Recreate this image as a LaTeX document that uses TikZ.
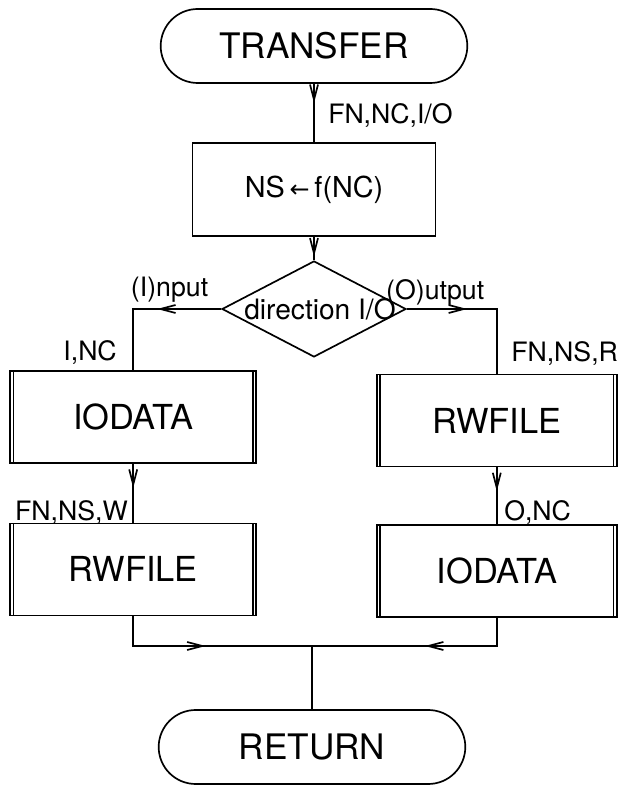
\documentclass[tikz,border=0pt]{standalone}
\usepackage{fontspec}
\setmainfont{TeX Gyre Heros}
\newfontfamily\arrowfont{DejaVu Sans}
\usetikzlibrary{positioning,shapes.geometric,shapes.misc,arrows.meta,decorations.markings}

\begin{document}
\begin{tikzpicture}[
    line width=1.2pt,
    term/.style={draw, rounded rectangle, minimum width=7.9cm,
                 minimum height=1.85cm, font=\fontsize{25}{30}\selectfont},
    proc/.style={draw, minimum width=6.075cm, minimum height=2.325cm,
                 font=\fontsize{20.5}{24}\selectfont},
    sub/.style={draw, minimum height=2.3cm, font=\fontsize{24.5}{29}\selectfont,
                path picture={
                  \draw ([xshift=0.085cm]path picture bounding box.north west)
                     -- ([xshift=0.085cm]path picture bounding box.south west);
                  \draw ([xshift=-0.085cm]path picture bounding box.north east)
                     -- ([xshift=-0.085cm]path picture bounding box.south east);}},
    decision/.style={draw, diamond, inner sep=0pt, minimum width=4.6cm,
                     minimum height=2.4cm},
    lbl/.style={font=\fontsize{19}{23}\selectfont, inner sep=1pt},
    flow/.style={postaction={decorate}, decoration={markings,
                 mark=at position #1 with {\arrow{Straight Barb[length=3.8mm,width=2mm]}}}}
]
\useasboundingbox (0,0) rectangle (15.475,19.675);

% --- Main column ---
\node[term] (transfer) at (7.85, 18.525) {TRANSFER};
\node[proc] (ns) at (7.85, 14.94) {NS\,{\arrowfont\fontsize{17}{20}\selectfont ←}\,f(NC)};
\node[decision] (dir) at (7.85, 11.95) {};
\node[font=\fontsize{20}{24}\selectfont, inner sep=0pt] (dirtxt) at (8.0, 11.95) {direction I/O};

% --- Input branch ---
\node[sub, minimum width=6.15cm] (iodataL) at (3.33, 9.25) {IODATA};
\node[sub, minimum width=6.15cm] (rwfileL) at (3.33, 5.44) {RWFILE};

% --- Output branch ---
\node[sub, minimum width=6.0cm] (rwfileR) at (12.42, 9.16) {RWFILE};
\node[sub, minimum width=6.0cm] (iodataR) at (12.42, 5.40) {IODATA};

% --- End ---
\coordinate (join) at (7.8, 3.525);
\node[term] (ret) at (7.8, 1.0) {RETURN};

% --- Connectors ---
\draw[flow=0.33] (transfer) -- (ns);
\draw[flow=0.85] (ns) -- (dir);
\draw[flow=0.43] (dir.west) -| (iodataL.north);
\draw[flow=0.39] (dir.east) -| (rwfileR.north);
\draw[flow=0.41] (iodataL) -- (rwfileL);
\draw[flow=0.42] (rwfileR) -- (iodataR);
\draw[flow=0.49] (rwfileL.south) |- (join);
\draw[flow=0.47] (iodataR.south) |- (join);
\draw (join) -- (ret);

% --- Labels ---
\node[lbl, anchor=west] (inargs) at (8.15, 16.8) {FN,NC,I/O};
\node[lbl] (inlbl) at (4.24, 12.425) {(I)nput};
\node[lbl] (outlbl) at (10.88, 12.375) {(O)utput};
\node[lbl, anchor=east] (iargs) at (2.975, 10.875) {I,NC};
\node[lbl, anchor=west] (rargs) at (12.725, 10.85) {FN,NS,R};
\node[lbl, anchor=east] (wargs) at (3.25, 6.875) {FN,NS,W};
\node[lbl, anchor=west] (oargs) at (12.55, 6.875) {O,NC};

\end{tikzpicture}
\end{document}
